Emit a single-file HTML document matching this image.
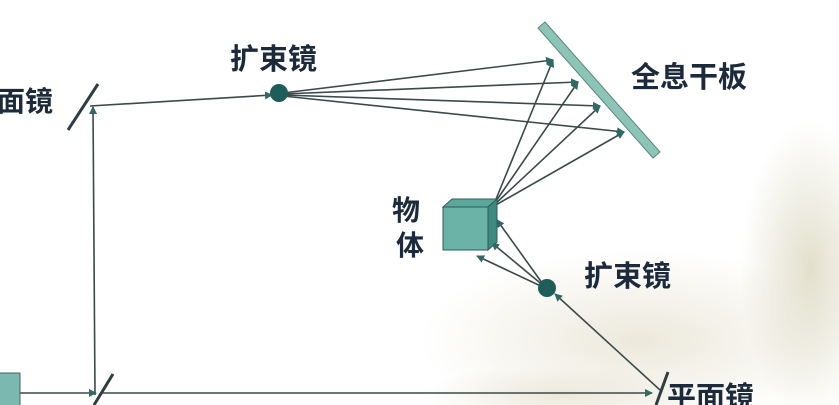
<!DOCTYPE html>
<html><head><meta charset="utf-8"><style>
html,body{margin:0;padding:0;width:839px;height:405px;overflow:hidden;background:#fff}
svg{display:block}
text{font-family:"Liberation Sans","Noto Sans CJK SC",sans-serif;font-weight:bold;fill:#1c2a3c}
</style></head><body>
<svg width="839" height="405" viewBox="0 0 839 405" xmlns="http://www.w3.org/2000/svg">
<defs>
<marker id="a" markerWidth="8" markerHeight="8" refX="7" refY="4" orient="auto" markerUnits="userSpaceOnUse">
<path d="M0,0 L8,4 L0,8 z" fill="#2f6a64"/></marker>
<radialGradient id="g1" cx="0.5" cy="0.5" r="0.5"><stop offset="0" stop-color="#ece9db"/><stop offset="1" stop-color="#ece9db" stop-opacity="0"/></radialGradient>
<radialGradient id="g2" cx="0.5" cy="0.5" r="0.5"><stop offset="0" stop-color="#e2dfcc"/><stop offset="1" stop-color="#e2dfcc" stop-opacity="0"/></radialGradient>
</defs>
<rect width="839" height="405" fill="#fff"/>
<ellipse cx="640" cy="340" rx="220" ry="90" fill="url(#g1)"/>
<ellipse cx="810" cy="270" rx="70" ry="150" fill="url(#g2)"/>
<ellipse cx="560" cy="395" rx="140" ry="30" fill="url(#g1)"/>
<g stroke="#3a4a4a" stroke-width="1.6" fill="none">
<line x1="95" y1="395" x2="93" y2="107" marker-end="url(#a)"/>
<line x1="90" y1="106" x2="272" y2="95" marker-end="url(#a)"/>
<line x1="283" y1="93" x2="553" y2="60" marker-end="url(#a)"/>
<line x1="283" y1="94" x2="578" y2="82" marker-end="url(#a)"/>
<line x1="283" y1="95" x2="600" y2="106" marker-end="url(#a)"/>
<line x1="283" y1="96" x2="624" y2="132" marker-end="url(#a)"/>
<line x1="494" y1="204" x2="553" y2="60" marker-end="url(#a)"/>
<line x1="494" y1="204" x2="578" y2="82" marker-end="url(#a)"/>
<line x1="494" y1="205" x2="600" y2="106" marker-end="url(#a)"/>
<line x1="494" y1="206" x2="624" y2="132" marker-end="url(#a)"/>
<line x1="545" y1="287" x2="497" y2="220" marker-end="url(#a)"/>
<line x1="545" y1="287" x2="492" y2="243" marker-end="url(#a)"/>
<line x1="545" y1="288" x2="477" y2="256" marker-end="url(#a)"/>
<line x1="660" y1="390" x2="555" y2="294" marker-end="url(#a)"/>
<line x1="20" y1="393" x2="96" y2="393" marker-end="url(#a)"/>
<line x1="100" y1="393" x2="652" y2="393" marker-end="url(#a)"/>
</g>
<g stroke="#2f3f3f" stroke-width="3">
<line x1="68" y1="130" x2="98" y2="84"/>
<line x1="94" y1="405" x2="113" y2="374"/>
<line x1="656" y1="405" x2="668" y2="372"/>
</g>
<polygon points="538,28 545,22 660,152 653,158" fill="#8cc4b8" stroke="#5a8a80" stroke-width="1"/>
<polygon points="443,207 452,199 497,199 488,207" fill="#5aa89c" stroke="#2f5e58"/>
<polygon points="488,207 497,199 497,242 488,250" fill="#3f8a80" stroke="#2f5e58"/>
<rect x="443" y="207" width="45" height="43" fill="#6ab3a6" stroke="#2f5e58"/>
<circle cx="279" cy="93" r="9" fill="#1e5d5a"/>
<circle cx="547" cy="288" r="9" fill="#1e5d5a"/>
<rect x="-2" y="373" width="22" height="34" fill="#7ab8b0" stroke="#3f6a66"/>
<text x="-3" y="111" font-size="28">面镜</text>
<text x="230" y="69" font-size="29">扩束镜</text>
<text x="631" y="87" font-size="29">全息干板</text>
<text x="392" y="220" font-size="28">物</text>
<text x="396" y="255" font-size="28">体</text>
<text x="584" y="286" font-size="29">扩束镜</text>
<text x="667" y="407" font-size="29">平面镜</text>
</svg>
</body></html>
